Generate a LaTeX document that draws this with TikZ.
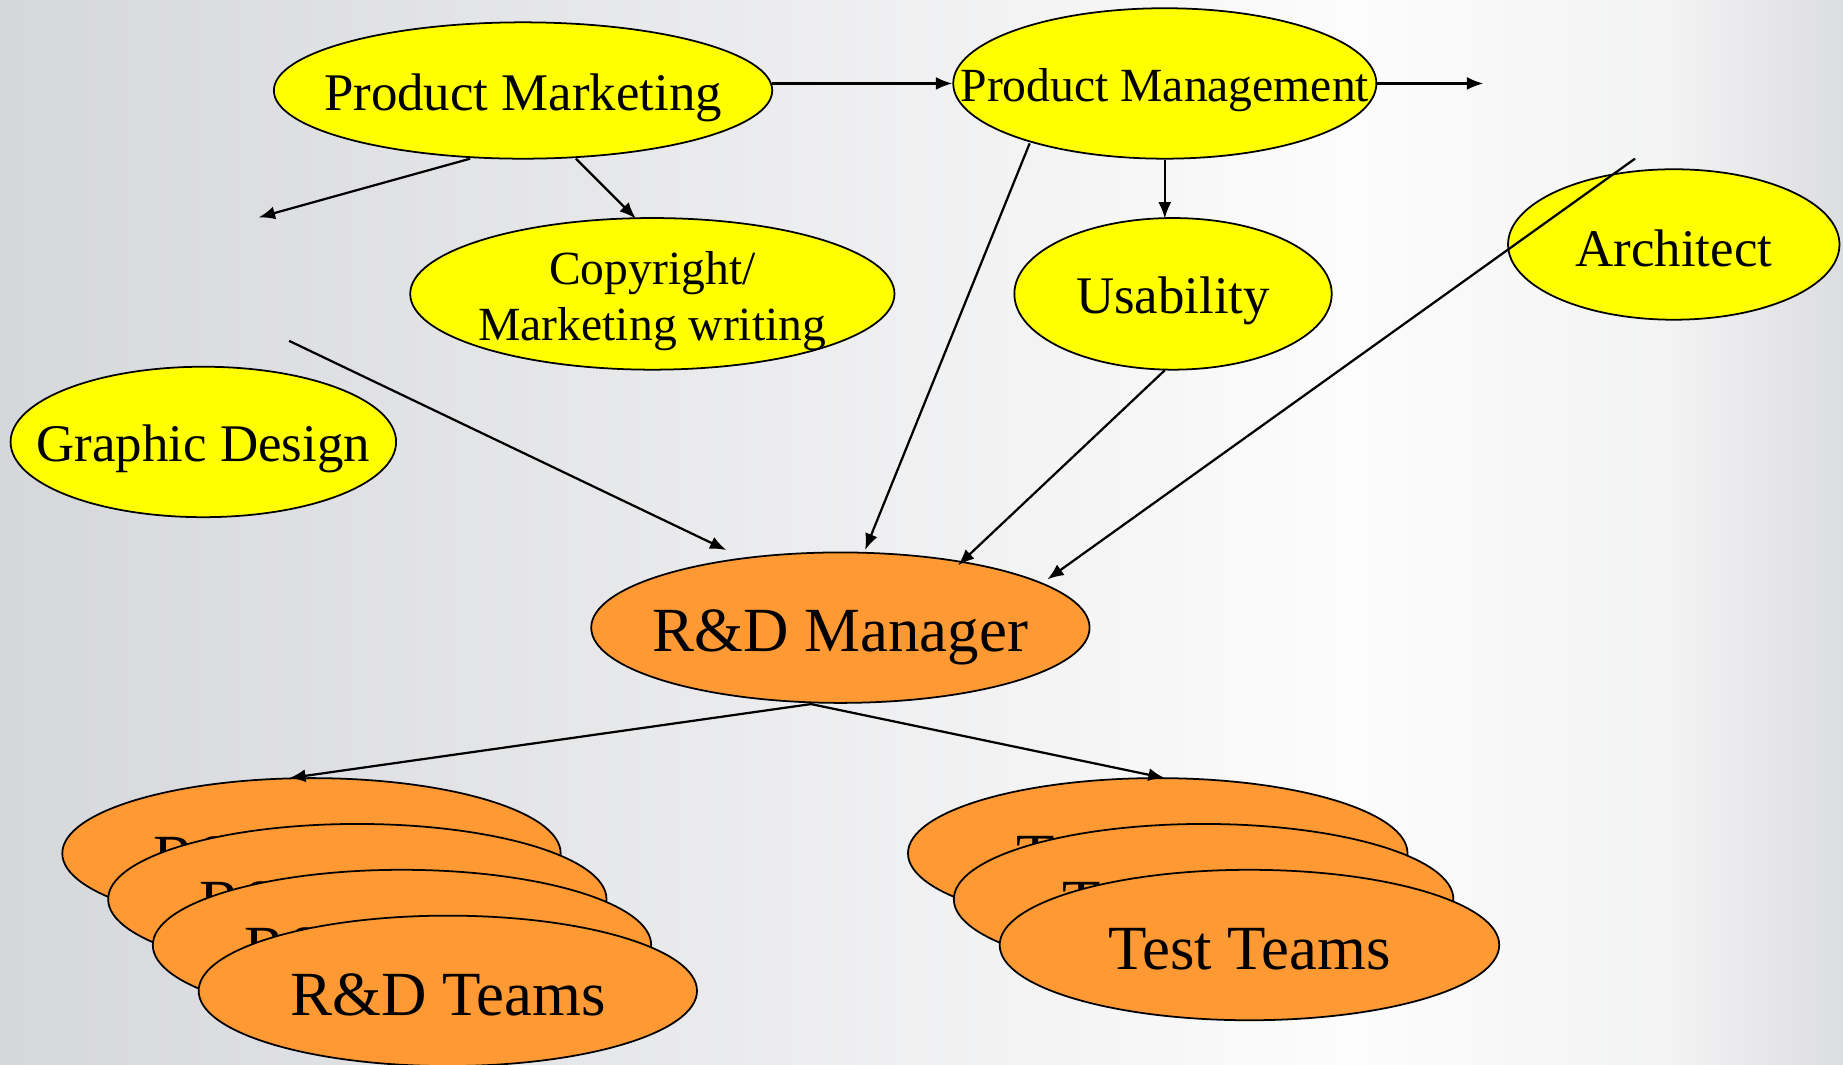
\documentclass[tikz,border=0pt]{standalone}
\usepackage{fontspec}
\setmainfont{Liberation Serif}
\usetikzlibrary{shapes.geometric,arrows.meta}
\definecolor{yel}{RGB}{255,255,0}
\definecolor{org}{RGB}{255,153,51}
\definecolor{bgside}{RGB}{214,215,219}
\definecolor{bgmid}{RGB}{252,252,252}
\definecolor{bgright}{RGB}{220,221,224}
\begin{document}
\begin{tikzpicture}[x=1pt,y=-1pt,
  bub/.style={ellipse,draw=black,line width=1.5pt,inner sep=0pt},
  ybub/.style={bub,fill=yel},
  obub/.style={bub,fill=org},
  txt/.style={inner sep=0pt,align=center,text=black},
  fa/.style={font=\fontsize{45}{54}\selectfont,yshift=-6pt},
  fb/.style={font=\fontsize{40.5}{48}\selectfont,yshift=-6pt},
  fc/.style={font=\fontsize{53.5}{64}\selectfont,yshift=-3.5pt},
  arr/.style={line width=1.9pt,-{Latex[length=14pt,width=11pt]}},
  ln/.style={line width=1.9pt}]
\useasboundingbox (0,0) rectangle (1568,906);
\shade[left color=bgside,right color=bgmid] (0,0) rectangle (1150,906);
\shade[left color=bgmid,right color=bgmid!70!bgright] (1150,0) rectangle (1420,906);
\shade[left color=bgmid!70!bgright,right color=bgright] (1420,0) rectangle (1568,906);

% yellow nodes
\node[ybub,minimum width=424pt,minimum height=116pt] (pm) at (445,77) {};
\node[txt,fa] (pmt) at (pm.center) {Product Marketing};
\node[ybub,minimum width=360pt,minimum height=128pt] (pmg) at (991,71) {};
\node[txt,fb] (pmgt) at (pmg.center) {Product Management};
\node[ybub,minimum width=412pt,minimum height=129pt] (copy) at (555,250) {};
\node[txt,fb] (copyt) at (copy.center) {Copyright/\\Marketing writing};
\node[ybub,minimum width=328pt,minimum height=128pt] (gd) at (173,376) {};
\node[txt,fa] (gdt) at (gd.center) {Graphic Design};
\node[ybub,minimum width=270pt,minimum height=129pt] (usab) at (998,250) {};
\node[txt,fa] (usabt) at (usab.center) {Usability};
\node[ybub,minimum width=282pt,minimum height=128pt] (arch) at (1424,208) {};
\node[txt,fa,yshift=3pt] (archt) at (arch.center) {Architect};

% orange nodes
\node[obub,minimum width=424pt,minimum height=128pt] (rdm) at (715,534) {};
\node[txt,fc,yshift=-5pt] (rdmt) at (rdm.center) {R\&D Manager};

\node[obub,minimum width=424pt,minimum height=128pt] (rd1) at (265,726) {};
\node[txt,fc] (rd1t) at (rd1.center) {R\&D Teams};
\node[obub,minimum width=424pt,minimum height=128pt] (rd2) at (304,765) {};
\node[txt,fc] (rd2t) at (rd2.center) {R\&D Teams};
\node[obub,minimum width=424pt,minimum height=128pt] (rd3) at (342,804) {};
\node[txt,fc] (rd3t) at (rd3.center) {R\&D Teams};
\node[obub,minimum width=424pt,minimum height=128pt] (rd4) at (381,843) {};
\node[txt,fc] (rd4t) at (rd4.center) {R\&D Teams};

\node[obub,minimum width=425pt,minimum height=128pt] (te1) at (985,726) {};
\node[txt,fc] (te1t) at (te1.center) {Test Teams};
\node[obub,minimum width=425pt,minimum height=128pt] (te2) at (1024,765) {};
\node[txt,fc] (te2t) at (te2.center) {Test Teams};
\node[obub,minimum width=425pt,minimum height=128pt] (te3) at (1063,804) {};
\node[txt,fc] (te3t) at (te3.center) {Test Teams};

% free ends
\coordinate (f1) at (1262,71);
\coordinate (f2) at (220,185);
\coordinate (f3) at (246,290);
\coordinate (f4) at (1391,135);

% connectors
\draw[arr] ([shift={(212,-6)}]pm.center) -- (pmg.west);
\draw[arr] (pmg.east) -- (f1);
\draw[arr] ([shift={(-45,58)}]pm.center) -- (f2);
\draw[arr] ([shift={(45,58)}]pm.center) -- ([shift={(-14,-64)}]copy.center);
\draw[arr] (f3) -- ([shift={(-97,-66)}]rdm.center);
\draw[arr] ([shift={(-115,51)}]pmg.center) -- ([shift={(21,-66)}]rdm.center);
\draw[arr] (pmg.south) -- ([shift={(-7,-64)}]usab.center);
\draw[arr] ([shift={(-7,65)}]usab.center) -- ([shift={(100,-53)}]rdm.center);
\draw[arr] (f4) -- ([shift={(176,-41)}]rdm.center);
\draw[arr] ([shift={(-25,65)}]rdm.center) -- ([shift={(-19,-64)}]rd1.center);
\draw[arr] ([shift={(-25,65)}]rdm.center) -- ([shift={(6,-64)}]te1.center);
\end{tikzpicture}
\end{document}
